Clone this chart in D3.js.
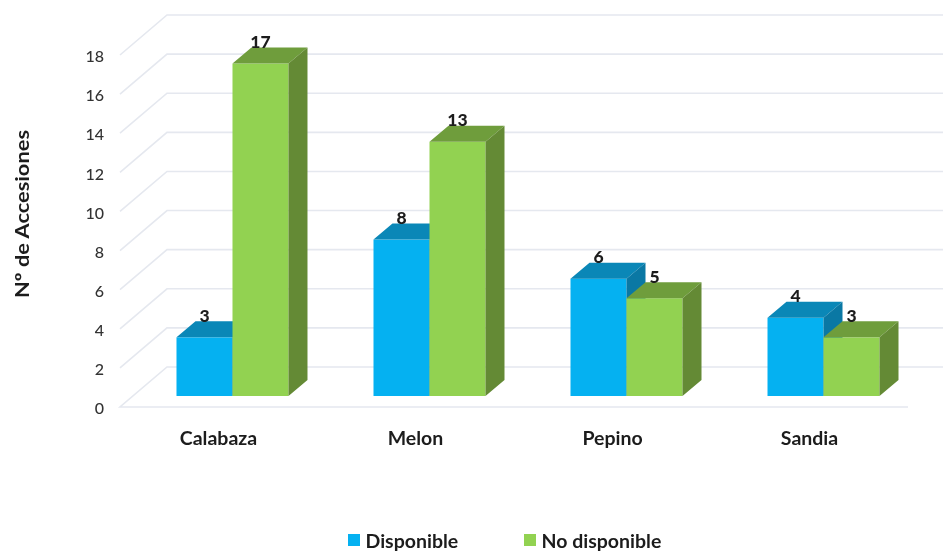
<!DOCTYPE html>
<html>
<head>
<meta charset="utf-8">
<script src="https://d3js.org/d3.v7.min.js"></script>
<style>
  html, body { margin: 0; background: #fff; }
  svg { display: block; filter: blur(0.45px); }
  text { font-family: Lato, sans-serif; font-weight: 700; fill: #1c1c1c; }
</style>
</head>
<body>
<div id="chart-area"></div>
<script>
const categories = ["Calabaza", "Melon", "Pepino", "Sandia"];
const seriesNames = ["Disponible", "No disponible"];
const disponible = [3, 8, 6, 4];
const noDisponible = [17, 13, 5, 3];
const yTicks = [0, 2, 4, 6, 8, 10, 12, 14, 16, 18];

const width = 943, height = 552;
const floorY = 407, floorLeft = 120, floorRight = 908;

// depth of the fake 3d box: wall offset, then bar offset and bar depth
const wall = {dx: 47, dy: -40};
const barOffset = {dx: 14, dy: -11};
const barDepth = {dx: 19, dy: -16};

const colors = {
    "Disponible": {front: "#05b1f1", top: "#0a87b7", side: "#0a78a4"},
    "No disponible": {front: "#92d251", top: "#6f9d3c", side: "#648a35"}
};

const x0 = d3.scaleBand()
    .domain(categories)
    .range([floorLeft, floorRight])
    .paddingInner(0.4315)
    .paddingOuter(0.2157);

const x1 = d3.scaleBand()
    .domain(seriesNames)
    .range([0, x0.bandwidth()]);

const y = d3.scaleLinear()
    .domain([0, 18])
    .range([floorY, floorY - 352]);

const svg = d3.select("#chart-area").append("svg")
    .attr("width", width)
    .attr("height", height);

// Gridlines, side wall then back wall
svg.append("g")
    .selectAll("path")
    .data(yTicks)
    .enter().append("path")
    .attr("d", d => {
        const yy = y(d);
        return d === 0
            ? `M${floorRight},${yy}H${floorLeft}L${floorLeft + wall.dx},${yy + wall.dy}H${width}`
            : `M${floorLeft},${yy}L${floorLeft + wall.dx},${yy + wall.dy}H${width}`;
    })
    .attr("fill", "none")
    .attr("stroke", "#e5e8ef")
    .attr("stroke-width", 1.6);

// Y axis
svg.append("g")
    .attr("transform", `translate(${floorLeft - 12},0)`)
    .call(d3.axisLeft(y).tickValues(yTicks).tickSize(0).tickPadding(4))
    .call(g => g.select(".domain").remove())
    .call(g => g.selectAll("text")
        .style("font-family", "Lato, sans-serif")
        .style("font-size", "16px")
        .style("font-weight", 500)
        .style("fill", "#333")
        .attr("dy", "0.42em"));

// X axis
svg.append("g")
    .attr("transform", `translate(0,${floorY + 20})`)
    .call(d3.axisBottom(x0).tickSize(0).tickPadding(0))
    .call(g => g.select(".domain").remove())
    .call(g => g.selectAll("text")
        .style("font-family", "Lato, sans-serif")
        .style("font-size", "19.5px")
        .style("font-weight", 700)
        .style("fill", "#1c1c1c")
        .attr("dy", "0.9em"));

// Y title
svg.append("text")
    .attr("transform", "translate(22,214) rotate(-90)")
    .attr("text-anchor", "middle")
    .attr("dominant-baseline", "central")
    .style("font-size", "18.5px")
    .attr("textLength", 168)
    .attr("lengthAdjust", "spacingAndGlyphs")
    .text("Nº de Accesiones");

const rows = categories.flatMap((c, i) => [
    {category: c, series: seriesNames[0], value: disponible[i]},
    {category: c, series: seriesNames[1], value: noDisponible[i]}
]);

const bars = svg.append("g")
    .selectAll("g")
    .data(rows)
    .enter().append("g")
    .attr("transform", d => `translate(${x0(d.category) + x1(d.series) + barOffset.dx},${barOffset.dy})`);

// front face
bars.append("rect")
    .attr("x", 0)
    .attr("y", d => y(d.value))
    .attr("width", x1.bandwidth())
    .attr("height", d => y(0) - y(d.value))
    .attr("fill", d => colors[d.series].front);

// top face
bars.append("path")
    .attr("d", d => {
        const t = y(d.value), w = x1.bandwidth();
        return `M0,${t}L${barDepth.dx},${t + barDepth.dy}H${w + barDepth.dx}L${w},${t}Z`;
    })
    .attr("fill", d => colors[d.series].top);

// side face
bars.append("path")
    .attr("d", d => {
        const t = y(d.value), b = y(0), w = x1.bandwidth();
        return `M${w},${t}L${w + barDepth.dx},${t + barDepth.dy}V${b + barDepth.dy}L${w},${b}Z`;
    })
    .attr("fill", d => colors[d.series].side);

// value labels, drawn last so no box covers them
svg.append("g")
    .selectAll("text")
    .data(rows)
    .enter().append("text")
    .attr("x", d => x0(d.category) + x1(d.series) + barOffset.dx + x1.bandwidth() / 2)
    .attr("y", d => y(d.value) + barOffset.dy - 22)
    .attr("text-anchor", "middle")
    .attr("dominant-baseline", "central")
    .style("font-size", "17.5px")
    .style("font-weight", 900)
    .text(d => d.value);

// Legend
const legendX = d3.scaleOrdinal().domain(seriesNames).range([348, 524]);

const legend = svg.append("g")
    .selectAll("g")
    .data(seriesNames)
    .enter().append("g")
    .attr("transform", d => `translate(${legendX(d)},534)`);

legend.append("rect")
    .attr("width", 12)
    .attr("height", 12)
    .attr("fill", d => colors[d].front);

legend.append("text")
    .attr("x", 17.5)
    .attr("y", 6)
    .attr("dominant-baseline", "central")
    .style("font-size", "19.5px")
    .text(d => d);
</script>
</body>
</html>
